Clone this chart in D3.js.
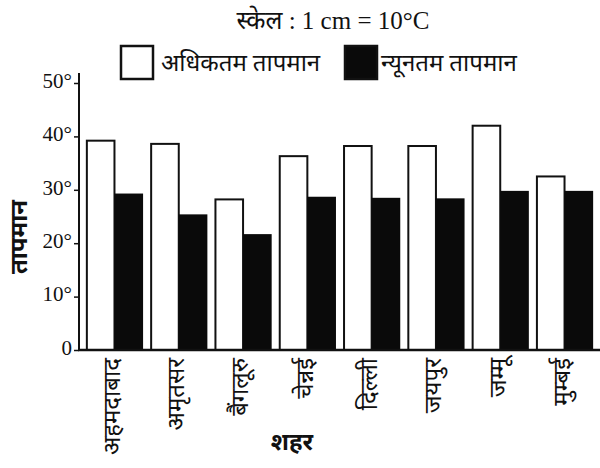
<!DOCTYPE html>
<html lang="hi">
<head>
    <meta charset="UTF-8">
    <title>तापमान</title>
    <style>
        body { margin: 0; background: #fff; }
        text { font-family: "Liberation Serif", "Noto Sans", serif; fill: #111; }
        .bold { font-weight: bold; }
    </style>
</head>
<body>
    <svg id="chart" width="600" height="468"></svg>

    <script src="https://d3js.org/d3.v7.min.js"></script>
    <script>
        // data
        const cities = ["अहमदाबाद", "अमृतसर", "बैंगलूरु", "चेन्नई", "दिल्ली", "जयपुर", "जम्मू", "मुम्बई"];
        const maxTemp = [39.2, 38.6, 28.2, 36.3, 38.2, 38.2, 42, 32.5];
        const minTemp = [29.3, 25.4, 21.7, 28.7, 28.5, 28.4, 29.8, 29.8];
        const yTicks = [0, 10, 20, 30, 40, 50];
        const seriesNames = ["अधिकतम तापमान", "न्यूनतम तापमान"];

        const svg = d3.select("#chart");

        const x = d3.scaleBand()
            .domain(cities)
            .range([82, 597])
            .paddingInner(0.11)
            .paddingOuter(0.06);

        const x1 = d3.scaleBand()
            .domain([0, 1])
            .range([0, x.bandwidth()]);

        const y = d3.scaleLinear()
            .domain([0, 50])
            .range([350, 83]);

        const groups = svg.selectAll(".grp")
            .data(cities)
            .enter().append("g")
            .attr("class", "grp")
            .attr("transform", d => `translate(${x(d)},0)`);

        groups.append("rect")
            .attr("x", x1(0) + 1)
            .attr("y", (d, i) => y(maxTemp[i]))
            .attr("width", x1.bandwidth() - 1)
            .attr("height", (d, i) => y(0) - y(maxTemp[i]))
            .attr("fill", "#fff")
            .attr("stroke", "#111")
            .attr("stroke-width", 2);

        groups.append("rect")
            .attr("x", x1(1))
            .attr("y", (d, i) => y(minTemp[i]))
            .attr("width", x1.bandwidth())
            .attr("height", (d, i) => y(0) - y(minTemp[i]))
            .attr("fill", "#0a0a0a");

        // y axis
        const yAxis = svg.append("g")
            .attr("transform", "translate(79,0)")
            .call(d3.axisLeft(y).tickValues(yTicks).tickSize(5).tickPadding(2)
                .tickFormat(d => d === 0 ? "0" : d + "°"));
        yAxis.select(".domain").remove();
        yAxis.selectAll("line").attr("stroke", "#111").attr("stroke-width", 1.5);
        yAxis.selectAll("text").attr("font-size", 21).attr("fill", "#333")
            .attr("dy", "0.2em")
            .style("font-family", "'Liberation Serif', serif");

        svg.append("line")
            .attr("x1", 79).attr("x2", 79)
            .attr("y1", 73).attr("y2", 351)
            .attr("stroke", "#111").attr("stroke-width", 2);

        // x axis
        const xAxis = svg.append("g")
            .attr("transform", "translate(0,350)")
            .call(d3.axisBottom(x).tickSize(0).tickPadding(0));
        xAxis.select(".domain").remove();
        xAxis.selectAll("text")
            .attr("font-size", 24)
            .attr("transform", "rotate(-90)")
            .attr("x", -8)
            .attr("y", -3)
            .attr("dy", "0.35em")
            .attr("text-anchor", "end");

        svg.append("line")
            .attr("x1", 78).attr("x2", 600)
            .attr("y1", 350).attr("y2", 350)
            .attr("stroke", "#111").attr("stroke-width", 2.5);

        // titles
        svg.append("text")
            .attr("x", 333).attr("y", 29)
            .attr("text-anchor", "middle")
            .attr("font-size", 25)
            .text("स्केल : 1 cm = 10°C");

        svg.append("text")
            .attr("class", "bold")
            .attr("transform", "translate(19,237) rotate(-90)")
            .attr("text-anchor", "middle")
            .attr("dy", "0.35em")
            .attr("font-size", 24)
            .text("तापमान");

        svg.append("text")
            .attr("class", "bold")
            .attr("x", 292).attr("y", 450)
            .attr("text-anchor", "middle")
            .attr("font-size", 24)
            .text("शहर");

        // legend
        const legend = svg.selectAll(".leg")
            .data(seriesNames)
            .enter().append("g")
            .attr("class", "leg")
            .attr("transform", (d, i) => `translate(${i === 0 ? 121 : 345},46)`);

        legend.append("rect")
            .attr("width", 32).attr("height", 33)
            .attr("fill", (d, i) => i === 0 ? "#fff" : "#0a0a0a")
            .attr("stroke", "#111").attr("stroke-width", 2.5);

        legend.append("text")
            .attr("x", (d, i) => i === 0 ? 40 : 36)
            .attr("y", 25)
            .attr("font-size", 24)
            .text(d => d);
    </script>
</body>
</html>
